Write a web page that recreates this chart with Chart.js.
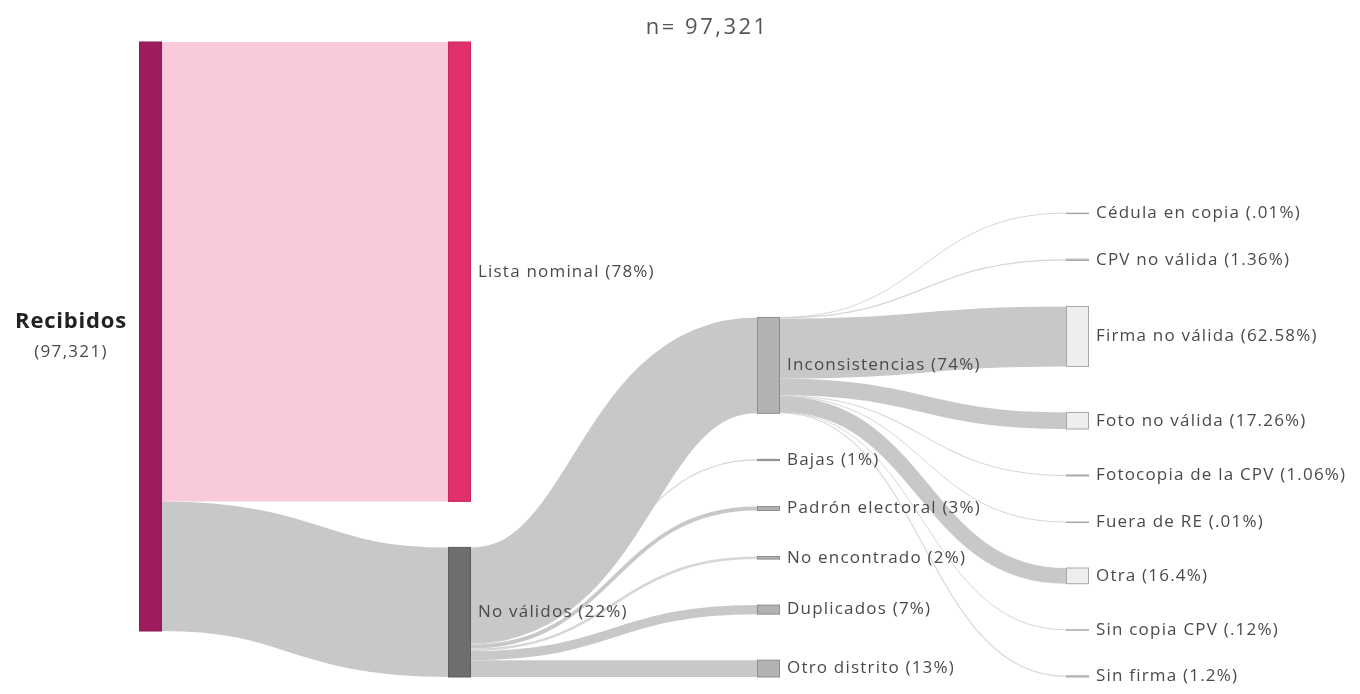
<!DOCTYPE html>
<html>
<head>
<meta charset="utf-8">
<script src="https://cdn.jsdelivr.net/npm/chart.js@4"></script>
<style>
  body { margin: 0; background: #fff; }
  #wrap { width: 1360px; height: 694px; }
</style>
</head>
<body>
<div id="wrap"><canvas id="chartSankey"></canvas></div>
<script>
// Datos del diagrama (porcentajes)
const total = 97321;
const raiz = 'Recibidos';
const nivel1 = ['Lista nominal', 'No válidos'];
const nivel1Pct = [78, 22];
const nivel2 = ['Inconsistencias', 'Bajas', 'Padrón electoral', 'No encontrado', 'Duplicados', 'Otro distrito'];
const nivel2Pct = [74, 1, 3, 2, 7, 13];
const nivel3 = ['Cédula en copia', 'CPV no válida', 'Firma no válida', 'Foto no válida', 'Fotocopia de la CPV',
                'Fuera de RE', 'Otra', 'Sin copia CPV', 'Sin firma'];
const nivel3Pct = [0.01, 1.36, 62.58, 17.26, 1.06, 0.01, 16.4, 0.12, 1.2];

const NODE_W = 23;
const PAD = 7600; // separacion entre nodos, en registros
const FONT = "'Open Sans', 'Lato', sans-serif";

function fmtPct(p) {
    return String(p).replace(/^0\./, '.');
}

// Construir nodos y enlaces
const nodos = [];
const enlaces = [];
nodos.push({ name: raiz, col: 0, value: total, fill: '#9d1d5e', stroke: '#8a1852' });
const idxN1 = nivel1.map((n, i) => {
    nodos.push({
        name: n, col: 1, value: total * nivel1Pct[i] / 100,
        label: n + ' (' + fmtPct(nivel1Pct[i]) + '%)',
        fill: i === 0 ? '#e2306e' : '#6e6e6e',
        stroke: i === 0 ? '#cc2862' : '#5c5c5c'
    });
    enlaces.push({ s: 0, t: nodos.length - 1, value: total * nivel1Pct[i] / 100, color: i === 0 ? '#f9cadb' : '#c8c8c8' });
    return nodos.length - 1;
});
const noValidos = nodos[idxN1[1]];
const idxN2 = nivel2.map((n, i) => {
    const v = noValidos.value * nivel2Pct[i] / 100;
    nodos.push({
        name: n, col: 2, value: v,
        label: n + ' (' + fmtPct(nivel2Pct[i]) + '%)',
        fill: '#b2b2b2', stroke: '#8e8e8e'
    });
    enlaces.push({ s: idxN1[1], t: nodos.length - 1, value: v, color: '#c8c8c8' });
    return nodos.length - 1;
});
const inconsistencias = nodos[idxN2[0]];
nivel3.forEach((n, i) => {
    const v = inconsistencias.value * nivel3Pct[i] / 100;
    nodos.push({
        name: n, col: 3, value: v,
        label: n + ' (' + fmtPct(nivel3Pct[i]) + '%)',
        fill: '#eeeeee', stroke: '#a8a8a8'
    });
    enlaces.push({ s: idxN2[0], t: nodos.length - 1, value: v, color: '#c8c8c8' });
});

// Acomodo vertical: columna 0 arriba, las demas alineadas abajo
const yMax = total + PAD;
[0, 1, 2, 3].forEach(c => {
    const col = nodos.filter(n => n.col === c);
    if (c === 0) {
        let y = 0;
        col.forEach(n => { n.y0 = y; n.y1 = y + n.value; y = n.y1 + PAD; });
    } else {
        let y = yMax;
        col.slice().reverse().forEach(n => { n.y1 = y; n.y0 = y - n.value; y = n.y0 - PAD; });
    }
});
nodos.forEach(n => { n.sy = n.y0; n.ty = n.y0; });
enlaces.forEach(l => {
    const s = nodos[l.s], t = nodos[l.t];
    l.sy = s.sy + l.value / 2; s.sy += l.value;
    l.ty = t.ty + l.value / 2; t.ty += l.value;
});

const sankeyPlugin = {
    id: 'sankey',
    afterDatasetsDraw(chart) {
        const ctx = chart.ctx;
        const x = chart.scales.x, y = chart.scales.y;
        ctx.save();
        // enlaces
        enlaces.forEach(l => {
            const s = nodos[l.s], t = nodos[l.t];
            const x0 = x.getPixelForValue(s.col) + NODE_W;
            const x1 = x.getPixelForValue(t.col);
            const y0 = y.getPixelForValue(l.sy);
            const y1 = y.getPixelForValue(l.ty);
            const w = Math.abs(y.getPixelForValue(l.value) - y.getPixelForValue(0));
            const xm = (x0 + x1) / 2;
            ctx.beginPath();
            ctx.moveTo(x0, y0);
            ctx.bezierCurveTo(xm, y0, xm, y1, x1, y1);
            ctx.lineWidth = Math.max(w, 1);
            ctx.strokeStyle = l.color;
            ctx.globalAlpha = w < 3 ? 0.75 : 1;
            ctx.lineCap = 'butt';
            ctx.stroke();
        });
        ctx.globalAlpha = 1;
        // nodos
        nodos.forEach(n => {
            const px = x.getPixelForValue(n.col);
            const py0 = y.getPixelForValue(n.y0);
            const py1 = y.getPixelForValue(n.y1);
            ctx.fillStyle = n.fill;
            ctx.fillRect(px, py0, NODE_W, py1 - py0);
            ctx.strokeStyle = n.stroke;
            ctx.lineWidth = 1;
            ctx.strokeRect(px + 0.5, py0, NODE_W - 1, Math.max(py1 - py0, 0.5));
        });
        // etiquetas
        ctx.textBaseline = 'middle';
        nodos.forEach(n => {
            const px = x.getPixelForValue(n.col);
            const pm = y.getPixelForValue((n.y0 + n.y1) / 2);
            if (n.col === 0) {
                ctx.textAlign = 'center';
                ctx.fillStyle = '#222';
                ctx.font = 'bold 22px ' + FONT;
                ctx.letterSpacing = '0.8px';
                ctx.fillText(n.name, px - 68, pm - 15);
                ctx.fillStyle = '#4a4a4a';
                ctx.font = '17px ' + FONT;
                ctx.letterSpacing = '1.3px';
                ctx.fillText('(' + n.value.toLocaleString('en-US') + ')', px - 68, pm + 16);
            } else {
                ctx.textAlign = 'left';
                ctx.fillStyle = '#4a4a4a';
                ctx.font = '17px ' + FONT;
                ctx.letterSpacing = '1.2px';
                ctx.fillText(n.label, px + NODE_W + 7, pm);
            }
        });
        // subtitulo
        ctx.textAlign = 'center';
        ctx.fillStyle = '#555';
        ctx.font = '22px ' + FONT;
        ctx.letterSpacing = '2.5px';
        ctx.fillText('n= ' + total.toLocaleString('en-US'), chart.width * 0.52, 28);
        ctx.restore();
    }
};

new Chart(document.getElementById('chartSankey'), {
    type: 'scatter',
    data: { datasets: [{ data: [] }] },
    options: {
        responsive: true,
        maintainAspectRatio: false,
        animation: false,
        layout: { padding: { left: 139, right: 294, top: 42, bottom: 17 } },
        plugins: { legend: { display: false }, tooltip: { enabled: false } },
        scales: {
            x: { type: 'linear', min: 0, max: 3, display: false },
            y: { type: 'linear', min: 0, max: yMax, reverse: true, display: false }
        }
    },
    plugins: [sankeyPlugin]
});
</script>
</body>
</html>
